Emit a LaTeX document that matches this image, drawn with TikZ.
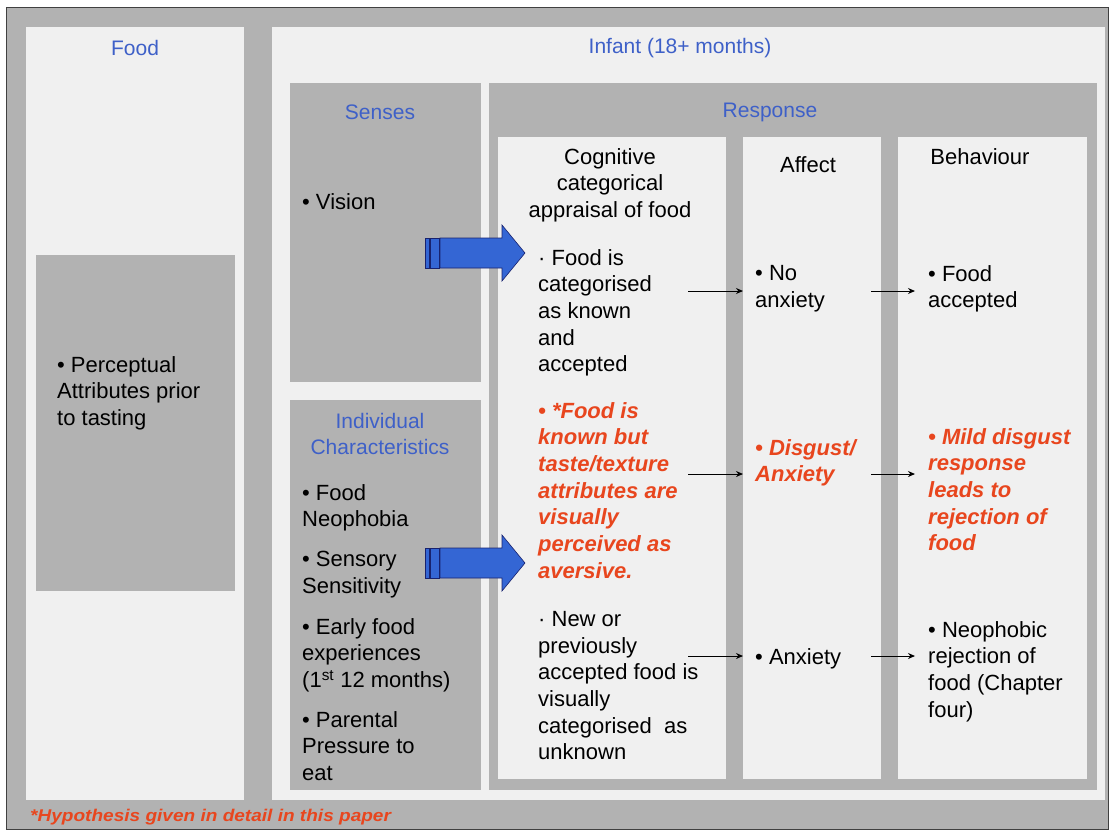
\documentclass[tikz,border=0pt]{standalone}
\usepackage{fontspec}
\setmainfont{Liberation Sans}
\usetikzlibrary{arrows.meta}
\definecolor{bggray}{RGB}{178,178,178}
\definecolor{paper}{RGB}{240,240,240}
\definecolor{headblue}{RGB}{62,96,200}
\definecolor{hypred}{RGB}{232,70,30}
\definecolor{arrowblue}{RGB}{52,102,212}
\definecolor{arrowedge}{RGB}{24,34,110}

\begin{document}
\begin{tikzpicture}[x=1pt, y=-1pt, >={Stealth[length=7pt,width=6pt]},
    lightbox/.style={fill=paper, draw=none, inner sep=0pt, outer sep=0pt, anchor=north west},
    graybox/.style={fill=bggray, draw=none, inner sep=0pt, outer sep=0pt, anchor=north west},
    title/.style={inner sep=0pt, align=center, text=headblue, font=\fontsize{21}{26.7}\selectfont},
    txt/.style={anchor=north west, inner sep=0pt, align=left, font=\fontsize{22}{26.7}\selectfont},
    head/.style={txt, anchor=north, align=center},
    redtxt/.style={txt, text=hypred, font=\fontsize{22}{26.7}\selectfont\bfseries\itshape},
    link/.style={->, line width=1pt},
    blockarrow/.pic={
        \filldraw[fill=arrowblue, draw=arrowedge, line width=0.6pt] (0,-15) rectangle (4,15);
        \filldraw[fill=arrowblue, draw=arrowedge, line width=0.6pt] (5,-15) rectangle (14,15);
        \filldraw[fill=arrowblue, draw=arrowedge, line width=0.6pt]
            (15,-15) -- (77,-15) -- (77,-28) -- (100,0) -- (77,28) -- (77,15) -- (15,15) -- cycle;
    }]

    \useasboundingbox (0,0) rectangle (1110,831);
    \node (frame) [graybox, draw=black!75, line width=0.8pt, minimum width=1102, minimum height=822] at (6,7) {};

    \node (food) [lightbox, minimum width=218, minimum height=773] at (26,27) {};
    \node (infant) [lightbox, minimum width=833, minimum height=773] at (272,27) {};
    \node (percept) [graybox, minimum width=199, minimum height=336] at (36,255) {};
    \node (senses) [graybox, minimum width=191, minimum height=299] at (290,83) {};
    \node (indiv) [graybox, minimum width=191, minimum height=390] at (290,400) {};
    \node (response) [graybox, minimum width=608, minimum height=707] at (489,83) {};
    \node (cogcol) [lightbox, minimum width=228, minimum height=642] at (498,137) {};
    \node (affcol) [lightbox, minimum width=138, minimum height=642] at (743,137) {};
    \node (behcol) [lightbox, minimum width=189, minimum height=642] at (898,137) {};

    \node (foodT) [title] at (135,48) {Food};
    \node (infantT) [title] at (680,48) {Infant (18+ months)};
    \node (sensesT) [title] at (380,112) {Senses};
    \node (respT) [title] at (770,112) {Response};
    \node (indivT) [title] at (380,434) {Individual\\Characteristics};

    \node (perceptT) [txt] at (57,356) {• Perceptual\\Attributes prior\\to tasting};
    \node (vision) [txt] at (302,193) {• Vision};
    \node (neo) [txt] at (302,484) {• Food\\Neophobia};
    \node (sensory) [txt] at (302,551) {• Sensory\\Sensitivity};
    \node (early) [txt] at (302,618) {• Early food\\experiences\\(1\textsuperscript{st} 12 months)};
    \node (parent) [txt] at (302,711) {• Parental\\Pressure to\\eat};

    \node (cogH) [head] at (610,148) {Cognitive\\categorical\\appraisal of food};
    \node (affH) [head] at (808,156) {Affect};
    \node (behH) [head] at (980,148) {Behaviour};

    \node (cogA) [txt] at (538,249) {· Food is\\categorised\\as known\\and\\accepted};
    \node (cogB) [redtxt] at (538,402) {• *Food is\\known but\\taste/texture\\attributes are\\visually\\perceived as\\aversive.};
    \node (cogC) [txt] at (538,611) {· New or\\previously\\accepted food is\\visually\\categorised\ \ as\\unknown};

    \node (affA) [txt] at (755,265) {• No\\anxiety};
    \node (affB) [redtxt] at (755,439) {• Disgust/\\Anxiety};
    \node (affC) [txt] at (755,648) {• Anxiety};

    \node (behA) [txt] at (928,265) {• Food\\accepted};
    \node (behB) [redtxt] at (928,428) {• Mild disgust\\response\\leads to\\rejection of\\food};
    \node (behC) [txt] at (928,621) {• Neophobic\\rejection of\\food (Chapter\\four)};

    \coordinate (cogAout) at (688,291);
    \coordinate (affAin) at (743,291);
    \coordinate (affAout) at (871,291);
    \coordinate (behAin) at (915,291);
    \coordinate (cogBout) at (688,474);
    \coordinate (affBin) at (743,474);
    \coordinate (affBout) at (871,474);
    \coordinate (behBin) at (915,474);
    \coordinate (cogCout) at (688,656);
    \coordinate (affCin) at (743,656);
    \coordinate (affCout) at (871,656);
    \coordinate (behCin) at (915,656);

    \draw[link] (cogAout) -- (affAin);
    \draw[link] (affAout) -- (behAin);
    \draw[link] (cogBout) -- (affBin);
    \draw[link] (affBout) -- (behBin);
    \draw[link] (cogCout) -- (affCin);
    \draw[link] (affCout) -- (behCin);

    \pic at (425,253) {blockarrow};
    \pic at (425,563) {blockarrow};

    \node (note) [anchor=west, inner sep=0pt, text=hypred, font=\fontsize{17}{20}\selectfont\bfseries\itshape] at (30,817) {\scalebox{1.12}[1]{*Hypothesis given in detail in this paper}};
\end{tikzpicture}
\end{document}
